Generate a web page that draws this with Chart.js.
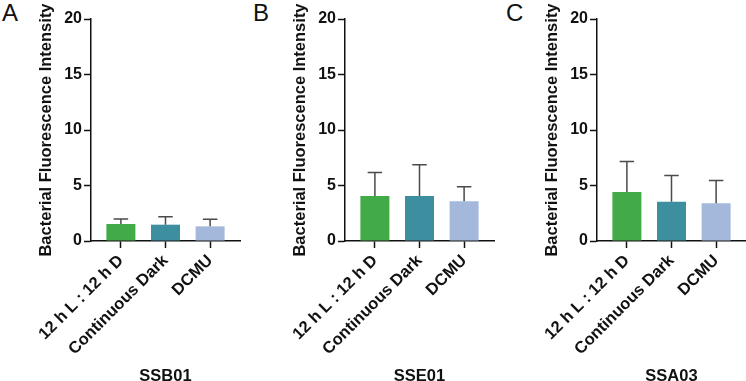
<!DOCTYPE html>
<html>
<head>
<meta charset="utf-8">
<script src="https://cdn.jsdelivr.net/npm/chart.js@4.4.0/dist/chart.umd.min.js"></script>
<style>
  html, body { margin:0; padding:0; background:#fff; width:746px; height:381px; overflow:hidden; position:relative; }
  canvas { position:absolute; top:0; }
  .tag { position:absolute; top:-1px; font:24px "Liberation Sans", Arial, sans-serif; color:#111; }
</style>
</head>
<body>
<div class="tag" style="left:2px">A</div>
<div class="tag" style="left:253px">B</div>
<div class="tag" style="left:506px">C</div>
<canvas id="cA" width="250" height="381" style="left:0px"></canvas>
<canvas id="cB" width="250" height="381" style="left:254px"></canvas>
<canvas id="cC" width="240" height="381" style="left:506px"></canvas>
<script>
/* ---------- data ---------- */
const groups    = ["12 h L : 12 h D", "Continuous Dark", "DCMU"];
const strains   = ["SSB01", "SSE01", "SSA03"];
const yTicks    = [0, 5, 10, 15, 20];

const meanSSB01 = [1.53, 1.47, 1.32];
const sdSSB01   = [0.45, 0.72, 0.63];
const meanSSE01 = [4.05, 4.05, 3.57];
const sdSSE01   = [2.13, 2.81, 1.31];
const meanSSA03 = [4.41, 3.54, 3.39];
const sdSSA03   = [2.76, 2.37, 2.07];

const barColors = ["#42aa46", "#3d8e9f", "#a4b8dc"];

/* ---------- styling ---------- */
const FONT = '"Liberation Sans", Arial, sans-serif';
const INK  = "#111";
const boldFont = (size, lh) => ({ family: FONT, size, weight: "bold", lineHeight: lh || 1.2 });

// upper-only error bars with a cap (Prism style)
const errorBars = {
  id: "errorBars",
  afterDatasetsDraw(chart, args, opts) {
    const { ctx, scales: { y } } = chart;
    const ds = chart.data.datasets[0];
    ctx.save();
    ctx.strokeStyle = "#4a4a4a";
    ctx.lineWidth = 1.5;
    chart.getDatasetMeta(0).data.forEach((bar, i) => {
      const top  = y.getPixelForValue(ds.data[i].y + opts.sd[i]);
      const half = bar.width / 4;
      ctx.beginPath();
      ctx.moveTo(bar.x, bar.y);
      ctx.lineTo(bar.x, top);
      ctx.moveTo(bar.x - half, top);
      ctx.lineTo(bar.x + half, top);
      ctx.stroke();
    });
    ctx.restore();
  }
};

const makePanel = (id, strain, means, sds) => {
  const cv = document.getElementById(id);
  return new Chart(cv, {
    type: "bar",
    data: {
      datasets: [{
        data: means.map((v, i) => ({ x: i, y: v })),
        backgroundColor: barColors,
        borderWidth: 0,
        categoryPercentage: 1,
        barPercentage: 0.65
      }]
    },
    options: {
      responsive: false,
      devicePixelRatio: 1,
      animation: false,
      events: [],
      layout: { padding: { top: 19, right: cv.width - 240, bottom: 0, left: 0 } },
      plugins: { legend: { display: false }, tooltip: { enabled: false }, errorBars: { sd: sds } },
      scales: {
        x: {
          type: "linear", min: -0.67, max: 2.67, offset: false,
          afterBuildTicks: s => { s.ticks = groups.map((g, i) => ({ value: i })); },
          ticks: {
            callback: v => groups[v], autoSkip: false,
            minRotation: 45, maxRotation: 45,
            font: boldFont(16.5), color: INK, padding: 3
          },
          grid: { offset: false, drawOnChartArea: false, tickLength: 7, tickColor: INK, tickWidth: 1.5 },
          border: { color: INK, width: 1.5 },
          title: { display: true, text: strain, font: boldFont(16.5, 0.6), color: INK, padding: 0 },
          afterFit: s => { s.height = 140; s.paddingLeft = 0; s.paddingRight = 0; }
        },
        y: {
          min: 0, max: 20,
          afterBuildTicks: s => { s.ticks = yTicks.map(v => ({ value: v })); },
          ticks: { font: boldFont(16), color: INK, padding: 2 },
          grid: { drawOnChartArea: false, tickLength: 7, tickColor: INK, tickWidth: 1.5 },
          border: { color: INK, width: 1.5 },
          title: {
            display: true, text: "Bacterial Fluorescence Intensity",
            font: boldFont(16.5), color: INK, padding: { top: 37, bottom: 0 }
          },
          afterFit: s => { s.width = 91; s.paddingTop = 0; s.paddingBottom = 0; }
        }
      }
    },
    plugins: [errorBars]
  });
};

makePanel("cA", strains[0], meanSSB01, sdSSB01);
makePanel("cB", strains[1], meanSSE01, sdSSE01);
makePanel("cC", strains[2], meanSSA03, sdSSA03);
</script>
</body>
</html>
